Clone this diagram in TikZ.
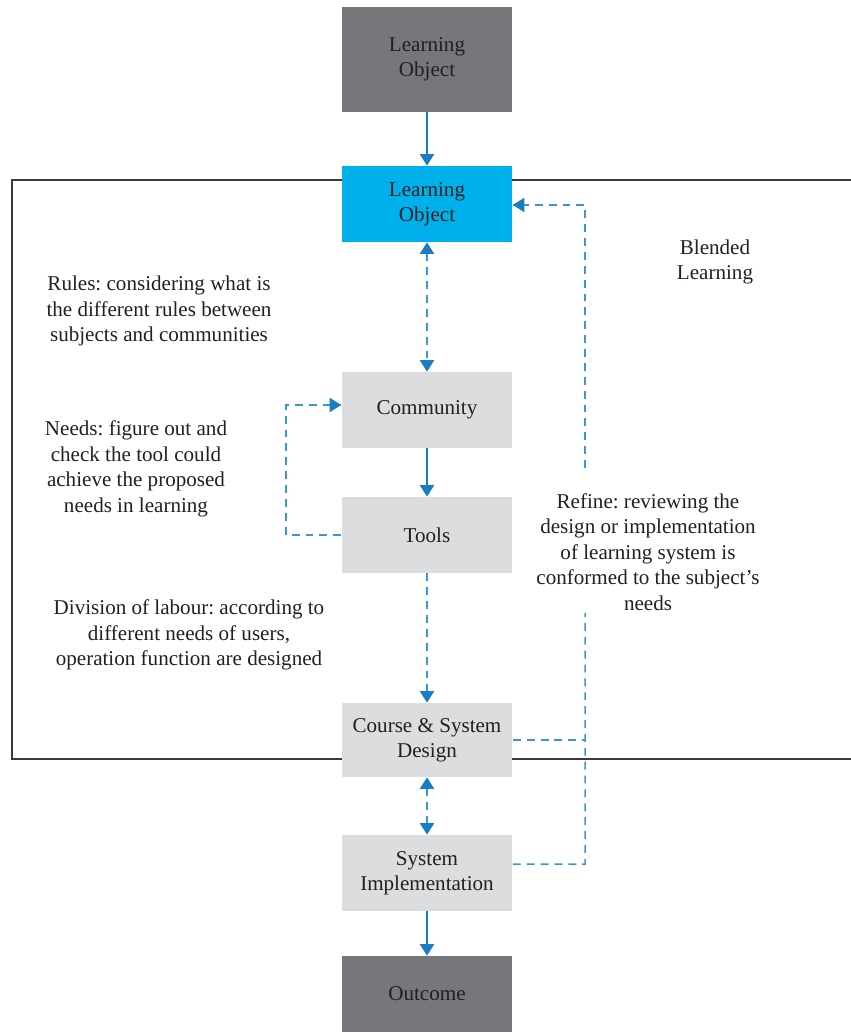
\documentclass[tikz,border=0pt]{standalone}
\usepackage{fontspec}
\setmainfont{Liberation Serif}
\usetikzlibrary{arrows.meta,calc}
\definecolor{darkbox}{HTML}{76777B}
\definecolor{bluebox}{HTML}{00B0EA}
\definecolor{lightbox}{HTML}{DCDDDF}
\definecolor{arrowblue}{HTML}{1A7DC1}
\definecolor{dashblue}{HTML}{3A96D4}
\definecolor{framegray}{HTML}{3A3A3C}
\definecolor{inktext}{HTML}{231F20}
\frenchspacing
\tikzset{
  box/.style={minimum width=3.42cm, minimum height=1.52cm, inner sep=0pt,
    align=center, text=inktext, font=\fontsize{12}{14.5}\selectfont},
  darkstep/.style={box, fill=darkbox},
  bluestep/.style={box, fill=bluebox},
  lightstep/.style={box, fill=lightbox},
  note/.style={align=center, text=inktext, font=\fontsize{12}{14.5}\selectfont, inner sep=0pt},
  tip/.style={-{Triangle[width=8pt,length=6.5pt,color=arrowblue]}},
  twotip/.style={{Triangle[width=8pt,length=6.5pt,color=arrowblue]}-{Triangle[width=8pt,length=6.5pt,color=arrowblue]}},
  flow/.style={tip, draw=arrowblue, line width=0.85pt},
  dflow/.style={draw=dashblue, line width=0.85pt, dash pattern=on 4.5pt off 3.4pt},
  headonly/.style={tip, arrowblue, line width=0.85pt},
}
\begin{document}
\begin{tikzpicture}[x=0.02cm, y=-0.02cm]
\useasboundingbox (0,0) rectangle (851,1032);

% blended learning frame
\draw[framegray, line width=0.8pt] (851,180) -- (12,180) -- (12,759) -- (851,759);

% process steps
\node[darkstep, minimum height=2.1cm] (lo0) at (427,59.5) {Learning\\Object};
\node[bluestep] (lo) at (427,204) {Learning\\Object};
\node[lightstep] (com) at (427,410) {Community};
\node[lightstep] (tools) at (427,535) {Tools};
\node[lightstep, minimum height=1.48cm] (design) at (427,740) {Course \& System\\Design};
\node[lightstep] (impl) at (427,873) {System\\Implementation};
\node[darkstep] (out) at (427,994) {Outcome};

% side notes
\node[note] (blend) at (715,262) {Blended\\Learning};
\node[note] (rules) at (159,311) {Rules: considering what is\\the different rules between\\subjects and communities};
\node[note] (needs) at (136,469) {Needs: figure out and\\check the tool could\\achieve the proposed\\needs in learning};
\node[note] (labour) at (189,635) {Division of labour: according to\\different needs of users,\\operation function are designed};
\node[note] (refine) at (648,552) {Refine: reviewing the\\design or implementation\\of learning system is\\conformed to the subject’s\\needs};

% main flow
\draw[flow] (lo0) -- (lo);
\draw[flow] (com) -- (tools);
\draw[flow] (impl) -- (out);
\draw[dflow, twotip] (lo) -- (com);
\draw[dflow, tip] (tools) -- (design);
\draw[dflow, twotip] (design) -- (impl);

% needs feedback loop
\coordinate (nl) at (286,535);
\draw[dflow] (tools.west) -- (nl) |- ([yshift=0.1cm]com.west) coordinate (comin);
\draw[headonly] ([xshift=-0.12cm]comin) -- (comin);

% refine feedback loop
\coordinate (r1) at (585,740);
\coordinate (r2) at (585,864);
\coordinate (rgapl) at (585,613);
\coordinate (rgapu) at (585,468);
\coordinate (rtop) at (585,205);
\coordinate (loin) at ([yshift=-0.02cm]lo.east);
\draw[dflow] (design.east) -- (r1);
\draw[dflow] ([yshift=0.18cm]impl.east) -- (r2) -- (rgapl);
\draw[dflow] (rgapu) -- (rtop) -- (loin);
\draw[headonly] ([xshift=0.12cm]loin) -- (loin);
\end{tikzpicture}
\end{document}
